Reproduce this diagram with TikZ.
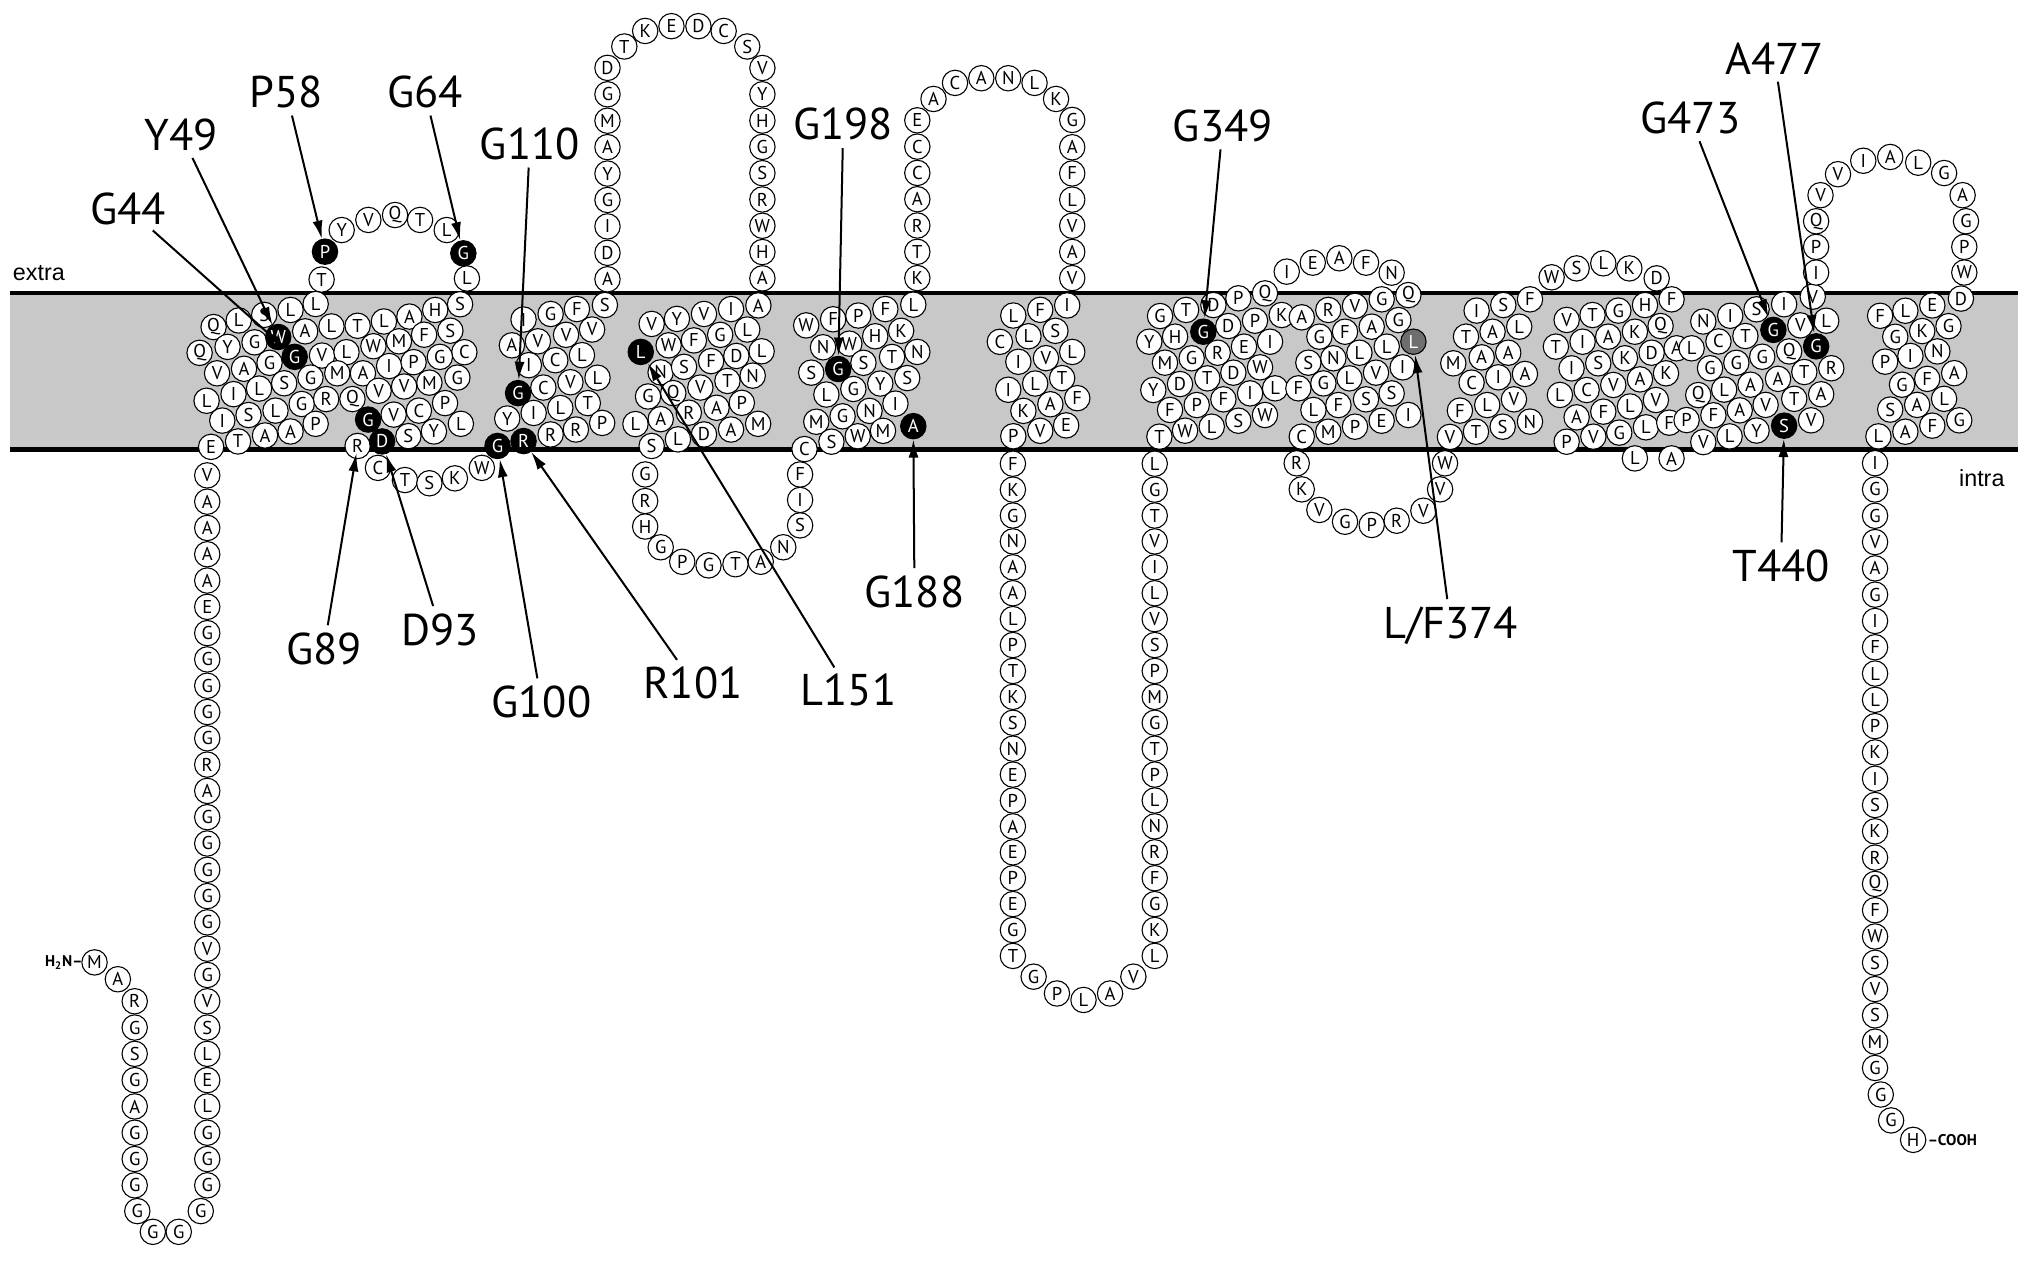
\documentclass[tikz,border=0pt]{standalone}
\usepackage{fontspec}
\usetikzlibrary{arrows.meta}
\newfontfamily\ptsans{PT Sans}
\newfontfamily\arialf{Liberation Sans}
\newcommand\resfont{\ptsans\fontsize{10.2}{11}\selectfont}
\newcommand\labfont{\ptsans\fontsize{24.4}{28}\selectfont}
\definecolor{memb}{RGB}{200,200,200}
\definecolor{lgrey}{RGB}{110,110,110}
\tikzset{
 res/.style={circle,draw=black,line width=0.6pt,fill=white,minimum size=0.49cm,inner sep=0pt,font=\resfont},
 hl/.style={res,fill=black,text=white},
 hg/.style={res,fill=lgrey,text=white},
 lab/.style={font=\labfont,inner sep=1pt},
 arr/.style={line width=1.1pt,shorten <=3pt,-{Latex[length=10pt,width=5.5pt]}},
 side/.style={font=\arialf\fontsize{12.8}{14}\selectfont,inner sep=0pt},
 term/.style={font=\ptsans\bfseries\fontsize{8.5}{10}\selectfont,inner sep=0pt},
}
\begin{document}
\begin{tikzpicture}[x=0.025cm,y=-0.025cm]
\useasboundingbox (0,0) rectangle (1568,973);
% membrane
\fill[memb] (8,226) rectangle (1558,347);
\draw[line width=2.4pt] (8,226) -- (1558,226);
\draw[line width=2.4pt] (8,347) -- (1558,347);
\node[side] (extra) at (30,211) {extra};
\node[side] (intra) at (1530,369) {intra};

% N-terminal tail
\node[term,anchor=east] (nterm) at (64,743) {H\textsubscript{2}N–};
\node[res] (n1) at (73,743) {M};
\node[res] (n2) at (91,756) {A};
\foreach \lt [count=\k] in {R,G,S,G,A,G,G,G}
  \node[res] (nl\k) at (104,{773+20.3*(\k-1)}) {\lt};
\node[res] (nb1) at (106,935) {G};
\node[res] (nb2) at (118,951) {G};
\node[res] (nb3) at (138,951) {G};
\node[res] (nb4) at (155,935) {G};
\foreach \lt [count=\k] in {V,A,A,A,A,E,G,G,G,G,G,R,A,G,G,G,G,G,V,G,V,S,L,E,L,G,G,G}
  \node[res] (nc\k) at (160,{367+20.3*(\k-1)}) {\lt};

% helix 1 and loop
\foreach \x/\y/\lt [count=\i] in {164.9/252.5/Q, 184.3/247.4/L, 204/243.1/S, 224.3/239.3/L, 243.7/234.7/L, 235.6/255.8/A, 255.9/252/L, 276.1/251.5/T, 296.4/248.2/L, 316.1/244.4/A, 336/239.3/H, 355.2/234.9/S, 154.1/272.4/Q, 175.7/267.8/Y, 196.5/264.3/G, 248.6/274.5/V, 267.5/271.9/L, 288.3/267.3/W, 308/263.5/M, 327.4/258.4/F, 347.7/255.3/S, 358.5/271.9/C, 167.6/288.2/V, 188.4/284.7/A, 208.1/280.1/G, 219.4/295.9/S, 239.7/291.5/G, 260.4/288.2/M, 280.2/288.2/A, 300.4/282.6/I, 319.3/279.6/P, 339.6/275.5/G, 159.5/309.4/L, 180.3/304.3/I, 200/300/L, 232.9/311.9/G, 251.8/308.1/R, 272.1/308.1/Q, 292.3/301.7/V, 312/298.4/V, 331.5/295.4/M, 353.1/291.5/G, 171.6/324.7/I, 191.9/320.4/S, 212.7/317/L, 303.9/320.1/V, 323.4/317/C, 343.6/311.2/P, 163/345/E, 183.8/340.8/T, 204.6/336.2/A, 224.3/333.1/A, 243.7/327.2/P, 315.3/336.7/S, 335/333.1/Y, 355.8/327.2/L, 291.8/361.2/C, 312.6/370.6/T, 331.5/373.1/S, 351.2/369.3/K, 372/361.2/W, 248.3/215.8/T, 263.8/177.6/Y, 284.4/169.8/V, 305/166/Q, 324.3/169.8/T, 344.9/177.6/L, 360.5/215/L}
  \node[res] (ha\i) at (\x,\y) {\lt};
\node[res] (r89) at (276.1,344.3) {R};
\node[hl] (y49) at (214.8,260.2) {W};
\node[hl] (g44) at (227.5,275.5) {G};
\node[hl] (p58) at (250.9,194.3) {P};
\node[hl] (g64) at (357.7,195.6) {G};
\node[hl] (g89) at (284.2,323.9) {G};
\node[hl] (d93) at (295,340.8) {D};

% helix 2
\foreach \x/\y/\lt [count=\i] in {404.2/246.7/I, 425.1/242.4/G, 445.4/238.6/F, 467/235.5/S, 395.2/266.6/A, 415.3/263.5/V, 437/258.5/V, 457.1/254.4/V, 408.3/281.9/I, 428.7/278.1/C, 449.3/274.2/L, 419.5/299.2/C, 440.4/295.1/V, 461.3/291.6/L, 391.6/323.1/Y, 412/318.8/I, 432.6/315/L, 453.8/311.2/T, 425.1/335.4/R, 444.6/331.6/R, 464.9/326.5/P}
  \node[res] (hb\i) at (\x,\y) {\lt};
\node[hl] (g110) at (400,303.5) {G};
\node[hl] (g100) at (384.1,344.3) {G};
\node[hl] (r101) at (404.2,340.5) {R};

% loop 2
\foreach \lt [count=\k] in {A,D,I,G,Y,A,M,G,D}
  \node[res] (la\k) at (469,{215.6-20.4*(\k-1)}) {\lt};
\foreach \x/\y/\lt [count=\i] in {482/35.9/T, 498.1/23.9/K, 518.4/20.2/E, 539.2/20.2/D, 558.7/23.9/C, 576.9/35.9/S}
  \node[res] (lt\i) at (\x,\y) {\lt};
\foreach \lt [count=\k] in {V,Y,H,G,S,R,W,H,A}
  \node[res] (lb\k) at (588.6,{52.5+20.3*(\k-1)}) {\lt};
\node[res] (lc1) at (585.5,235.8) {A};

% helix 3
\foreach \x/\y/\lt [count=\i] in {503.1/250.1/V, 522.6/246.2/Y, 543.5/242.4/V, 564.4/238.6/I, 516.2/266.6/W, 535.7/262.8/F, 556/258.5/G, 576.9/254.4/L, 510/287.5/N, 528.1/283.2/S, 549/278.8/F, 568.5/274.8/D, 588/271.2/L, 500.3/306.1/G, 519.8/303.5/Q, 540.7/299.2/V, 561.6/294.1/T, 581.1/290/N, 490.6/327.4/L, 510.1/323.6/A, 531.8/318.6/R, 553.2/314.8/A, 572.7/311/P, 503.1/344.3/S, 523.4/339.2/L, 543.5/335.4/D, 564.4/331.6/A, 585.3/327.2/M}
  \node[res] (hc\i) at (\x,\y) {\lt};
\node[hl] (l151) at (494.7,271.7) {L};

% loop 3
\foreach \x/\y/\lt [count=\i] in {498.1/366.3/G, 498.1/386.8/R, 498.1/406.5/H, 510.1/422.5/G, 526.7/433.7/P, 547/436.5/G, 567.8/435.6/T, 587.3/433.7/A, 604.7/422.5/N, 617.7/405.6/S, 617.7/386/I, 617.7/366.3/F, 621.1/346.7/C}
  \node[res] (lc\i) at (\x,\y) {\lt};

% helix 4
\foreach \x/\y/\lt [count=\i] in {622.4/251.2/W, 643.2/246.5/F, 662.7/243.6/P, 683.5/238.6/F, 705.1/235.2/L, 635.4/268.1/N, 655.7/265.3/W, 675.7/259.6/H, 695.7/255.4/K, 626.3/287.7/S, 666.6/280.1/S, 688.7/275.6/T, 708.2/271.7/N, 638/304.6/L, 658.8/300.3/G, 679.6/296.1/Y, 700.4/291.9/S, 630.2/325.6/M, 650.5/321.4/G, 671.3/317.2/N, 691.3/311.6/I, 641.9/341/S, 662.2/336.8/W, 681.7/332.6/M}
  \node[res] (hd\i) at (\x,\y) {\lt};
\node[hl] (g198) at (647.1,284.9) {G};
\node[hl] (g188) at (705.1,329) {A};

% loop 4
\foreach \lt [count=\k] in {K,T,R,A,C,C,E}
  \node[res] (ld\k) at (708.2,{214.7-20.3*(\k-1)}) {\lt};
\foreach \x/\y/\lt [count=\i] in {720.7/76.4/A, 737.3/64/C, 757.6/60.4/A, 778.4/60.4/N, 798.7/64/L, 815.3/76.4/K, 827.8/92.6/G}
  \node[res] (le\i) at (\x,\y) {\lt};
\foreach \lt [count=\k] in {A,F,L,V,A,V}
  \node[res] (lf\k) at (827.8,{113.7+20.2*(\k-1)}) {\lt};
\node[res] (lg1) at (823.9,235.8) {I};

% helix 5
\foreach \x/\y/\lt [count=\i] in {782.3/243.6/L, 803.1/239.2/F, 771.9/263.9/C, 794/259.6/L, 814.8/255.4/S, 786.2/279.3/I, 807.5/276.5/V, 827.8/271.7/L, 778.4/300.9/I, 799.2/296.1/L, 820/291.9/T, 790.1/317.2/K, 810.9/312.1/A, 831.7/307.4/F, 782.3/336.8/P, 803.1/332.6/V, 823.1/328.4/E}
  \node[res] (he\i) at (\x,\y) {\lt};

% long intracellular loop
\foreach \lt [count=\k] in {F,K,G,N,A,A,L,P,T,K,S,N,E,P,A,E,P,E,G,T}
  \node[res] (lh\k) at (782,{358+20*(\k-1)}) {\lt};
\foreach \x/\y/\lt [count=\i] in {798/754/G, 816/767/P, 836.5/772/L, 857/767/A, 875/754/V}
  \node[res] (li\i) at (\x,\y) {\lt};
\foreach \lt [count=\k] in {L,G,T,V,I,L,V,S,P,M,G,T,P,L,N,R,F,G,K,L}
  \node[res] (lj\k) at (891.5,{358+20*(\k-1)}) {\lt};

% helix 6
\foreach \x/\y/\lt [count=\i] in {895.6/244/G, 915.7/239.3/T, 936.8/235.5/D, 956.1/230.3/P, 976.6/226.5/Q, 887.3/263.8/Y, 907.2/259.9/H, 948.3/251.7/D, 968.9/247.6/P, 989.5/243.2/K, 899.4/280/M, 920/276.6/G, 940.1/272.3/R, 960.4/267.6/E, 980.5/263.8/I, 890.4/301.1/Y, 911/296.5/D, 932.1/292.1/T, 952.2/287.7/D, 972.8/283.6/W, 903.3/316.5/F, 923.9/312.7/P, 944.5/308.3/F, 965.1/303.7/I, 984.4/299.8/L, 1002.4/299.8/F, 895.1/337.1/T, 914.9/332.5/W, 935.5/329.4/L, 956.1/324.8/S, 976.6/320.4/W}
  \node[res] (hf\i) at (\x,\y) {\lt};
\node[hl] (g349) at (929,256.1) {G};
\foreach \x/\y/\lt [count=\i] in {993.4/209.7/I, 1013.5/202.8/E, 1034/199.4/A, 1054.6/202.8/F, 1074.4/210.5/N, 1087.3/227.8/Q}
  \node[res] (lk\i) at (\x,\y) {\lt};

% helix 7
\foreach \x/\y/\lt [count=\i] in {1005/245/A, 1025.5/239.3/R, 1046.1/236.2/V, 1066.7/231.1/G, 1018.6/259.9/G, 1038.4/256.1/F, 1059/252.2/A, 1079.6/247.1/G, 1010.1/280/S, 1029.4/276.6/N, 1049.5/272.3/L, 1070.6/267.6/L, 1082.9/283.6/I, 1021.7/296/G, 1041.8/292.1/L, 1062.3/287.7/V, 1074.4/303.7/S, 1014/316.5/L, 1033.3/312.7/F, 1054.6/308.3/S, 1005/337.1/C, 1025.5/333.3/M, 1046.1/329.4/P, 1066.7/324.8/E, 1087.3/320.4/I}
  \node[res] (hg\i) at (\x,\y) {\lt};
\node[hg] (lf374) at (1091.2,263.8) {L};
\foreach \x/\y/\lt [count=\i] in {1001.1/357.7/R, 1005/377.8/K, 1018.6/393.7/V, 1038.4/402.8/G, 1059/405.3/P, 1078.3/402/R, 1098.9/394.3/V, 1111.8/377.8/V, 1115.6/357.7/W}
  \node[res] (ll\i) at (\x,\y) {\lt};

% helix 8
\foreach \x/\y/\lt [count=\i] in {1140/239.8/I, 1160.6/235.5/S, 1181.2/231.1/F, 1131.8/259.9/T, 1152.3/256.1/A, 1172.9/252.2/L, 1122/280.5/M, 1143.9/275.9/A, 1164.4/272.3/A, 1136.1/295.4/C, 1156.7/291.3/I, 1177.3/288.7/A, 1127.1/317/F, 1148.2/312.7/L, 1168.8/308.3/V, 1119.4/337.3/V, 1139.5/333.3/T, 1160.1/329.4/S, 1181.2/325.5/N}
  \node[res] (hh\i) at (\x,\y) {\lt};
\foreach \x/\y/\lt [count=\i] in {1197.9/214.1/W, 1217.2/207.2/S, 1237.8/203.3/L, 1257.9/207.2/K, 1279/214.9/D}
  \node[res] (lm\i) at (\x,\y) {\lt};

% helix 9
\foreach \x/\y/\lt [count=\i] in {1209.5/247/V, 1229.5/243.2/T, 1249.4/239.8/G, 1270/235.5/H, 1290.5/231.1/F, 1201.2/267.6/T, 1221.8/263.8/I, 1241.6/259.9/A, 1262.2/256.1/K, 1282/251.7/Q, 1213.3/284.4/I, 1233.9/280.5/S, 1254.5/276.6/K, 1275.1/272.3/D, 1294.4/268.9/A, 1204.3/304.9/L, 1224.9/301.1/C, 1245.5/297.2/V, 1266.1/292.9/A, 1286.2/288.2/K, 1217.2/322.2/A, 1237.8/317.8/F, 1258.4/313.8/L, 1278.4/308.8/V, 1209.5/341/P, 1230.1/337.1/V, 1250.1/334/G, 1270.7/329.9/L, 1288.7/326.3/F, 1262.2/353.9/L, 1290.5/353.9/A}
  \node[res] (hi\i) at (\x,\y) {\lt};

% helix 10
\foreach \x/\y/\lt [count=\i] in {1306/268.9/L, 1302.1/324.3/P, 1315/248.2/N, 1335.8/243.8/I, 1356.1/238.8/S, 1377.4/234.9/I, 1399.5/229/V, 1326.7/263.6/C, 1347.5/259.4/T, 1389.9/251.2/V, 1409.9/247.6/L, 1320.2/284.3/G, 1340.5/280.1/G, 1360.5/275.4/G, 1381.3/271.3/Q, 1311.1/305/Q, 1331.1/300.8/L, 1351.4/297/A, 1372.7/292.5/A, 1393/287.2/T, 1413.8/284.3/R, 1322.8/320.6/F, 1343.1/316.8/A, 1363.1/312.6/V, 1385.2/307.9/T, 1406/304.4/A, 1315/341.3/V, 1335.3/336.9/L, 1356.1/332.4/Y, 1398.2/324.5/V}
  \node[res] (hj\i) at (\x,\y) {\lt};
\node[hl] (g473) at (1369.1,254.7) {G};
\node[hl] (a477) at (1402.1,267.4) {G};
\node[hl] (t440) at (1377.4,328.6) {S};

% loop 10-11
\foreach \x/\y/\lt [count=\i] in {1402.1/210.4/I, 1402.1/190.6/P, 1402.1/170.8/Q, 1405.5/150.7/V, 1419/134.5/V, 1438.5/124.1/I, 1459.3/121.2/A, 1480.9/125.6/L, 1500.9/133.6/G, 1515.2/150.7/A, 1517.8/170.8/G, 1516.5/190.6/P, 1516.5/210.4/W, 1513.9/230.5/D}
  \node[res] (ln\i) at (\x,\y) {\lt};

% helix 11
\foreach \x/\y/\lt [count=\i] in {1451.5/243.8/F, 1471/239.9/L, 1491.8/235.8/E, 1463.2/260/G, 1484/255.6/K, 1504.3/251.8/G, 1455.4/279.2/P, 1474.9/274.8/I, 1495.7/271.3/N, 1468.4/297/G, 1487.9/292.5/F, 1508.7/288.1/A, 1459.3/316.2/S, 1480.1/312.6/A, 1500.9/307.9/L, 1450.2/336.9/L, 1471/333.3/A, 1491.8/328.6/F, 1512.6/324.5/G}
  \node[res] (hk\i) at (\x,\y) {\lt};

% C-terminal tail
\foreach \lt [count=\k] in {I,G,G,V,A,G,I,F,L,L,P,K,I,S,K,R,Q,F,W,S,V,S,M,G}
  \node[res] (cc\k) at (1447.6,{357.6+20.3*(\k-1)}) {\lt};
\node[res] (ce1) at (1452,845) {G};
\node[res] (ce2) at (1460,865) {G};
\node[res] (ce3) at (1477,880) {H};
\node[term,anchor=west] (cterm) at (1488,880) {–COOH};

% labels
\node[lab] (lG44) at (99,161) {G44};
\node[lab] (lY49) at (140,104) {Y49};
\node[lab] (lP58) at (221,71) {P58};
\node[lab] (lG64) at (328,71) {G64};
\node[lab] (lG110) at (409,111) {G110};
\node[lab] (lG198) at (651,96) {G198};
\node[lab] (lG349) at (944,97) {G349};
\node[lab] (lG473) at (1305,91) {G473};
\node[lab] (lA477) at (1370,45) {A477};
\node[lab] (lG89) at (250,501) {G89};
\node[lab] (lD93) at (340,486) {D93};
\node[lab] (lG100) at (418,542) {G100};
\node[lab] (lR101) at (535,527) {R101};
\node[lab] (lL151) at (655,533) {L151};
\node[lab] (lG188) at (706,457) {G188};
\node[lab] (lLF374) at (1120,483) {L/F374};
\node[lab] (lT440) at (1375,437) {T440};

% arrows
\draw[arr] (lG44) -- (g44);
\draw[arr] (lY49) -- (y49);
\draw[arr] (lP58) -- (p58);
\draw[arr] (lG64) -- (g64);
\draw[arr] (lG110) -- (g110);
\draw[arr,shorten >=4pt] (lG89) -- (r89.center);
\draw[arr] (lD93) -- (d93);
\draw[arr] (lG100) -- (g100);
\draw[arr] (lR101) -- (r101);
\draw[arr] (lL151) -- (l151);
\draw[arr] (lG188) -- (g188);
\draw[arr] (lG198) -- (g198);
\draw[arr] (lG349) -- (g349);
\draw[arr] (lLF374) -- (lf374);
\draw[arr] (lT440) -- (t440);
\draw[arr] (lG473) -- (g473);
\draw[arr] (lA477) -- (a477);
\end{tikzpicture}
\end{document}
